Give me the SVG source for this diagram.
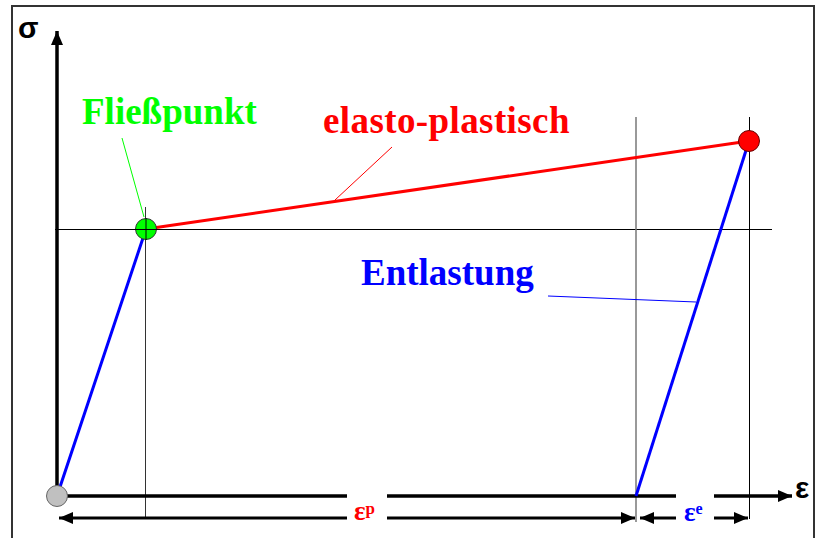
<svg xmlns="http://www.w3.org/2000/svg" width="816" height="538" viewBox="0 0 816 538">
<style>
.lbl{font-family:"Liberation Serif","Times New Roman",serif;font-weight:bold;font-size:37px}
.ax{font-family:"Liberation Sans",Arial,sans-serif;font-weight:bold;font-size:30px;fill:#000}
.thin{stroke:#000;stroke-width:1;fill:none}
.axis{stroke:#000;stroke-width:3.5;fill:none}
.dim{stroke:#000;stroke-width:3;fill:none}
.sym{font-family:"Liberation Serif","Times New Roman",serif;font-weight:bold}
</style>
<defs>
<marker id="ah" viewBox="0 0 14 12" refX="14" refY="6" markerWidth="14" markerHeight="12" markerUnits="userSpaceOnUse" orient="auto-start-reverse">
<path d="M0,0 L14,6 L0,12 Z" fill="#000"/>
</marker>
</defs>
<rect x="12" y="6" width="802" height="545" fill="#fff" stroke="#333" stroke-width="2"/>
<g id="connectors">
<line class="thin" x1="55" y1="229.5" x2="772" y2="229.5"/>
<line x1="145.5" y1="207" x2="145.5" y2="519" stroke="#333" stroke-width="1"/>
<line x1="636" y1="117" x2="636" y2="522" stroke="#777" stroke-width="1.5"/>
<line class="thin" x1="749.5" y1="117" x2="749.5" y2="519"/>
<line class="axis" x1="57" y1="496" x2="57" y2="31" marker-end="url(#ah)"/>
<line class="axis" x1="57" y1="496" x2="792" y2="496" marker-end="url(#ah)"/>
<line class="dim" x1="59" y1="518" x2="635" y2="518" marker-start="url(#ah)" marker-end="url(#ah)"/>
<line class="dim" x1="640" y1="518" x2="748" y2="518" marker-start="url(#ah)" marker-end="url(#ah)"/>
<line x1="57" y1="496" x2="146" y2="229" stroke="#00f" stroke-width="3"/>
<line x1="636" y1="496" x2="749" y2="141" stroke="#00f" stroke-width="3"/>
<line x1="146" y1="229" x2="749" y2="141" stroke="#f00" stroke-width="3"/>
<line x1="122" y1="138" x2="144" y2="217" stroke="#0f0" stroke-width="1"/>
<line x1="335" y1="200" x2="392" y2="147" stroke="#f00" stroke-width="1"/>
<line x1="548" y1="296" x2="696" y2="302" stroke="#00f" stroke-width="1"/>
</g>
<g id="origin"><circle cx="57" cy="496" r="10.5" fill="#c0c0c0" stroke="#666" stroke-width="1"/></g>
<g id="fliesspunkt-node"><circle cx="146" cy="229" r="10.5" fill="#0f0" stroke="#333" stroke-width="1"/>
<line class="thin" x1="146" y1="218" x2="146" y2="240"/><line class="thin" x1="135" y1="229.5" x2="157" y2="229.5"/></g>
<g id="endpunkt"><circle cx="749" cy="141" r="10.5" fill="#f00" stroke="#600" stroke-width="1"/></g>
<g id="eps-p"><rect x="347" y="493" width="40" height="30" fill="#fff"/>
<text class="sym" x="354" y="520" font-size="27" fill="#f00">ε<tspan font-size="17" dy="-6">p</tspan></text></g>
<g id="eps-e"><rect x="676" y="493" width="38" height="30" fill="#fff"/>
<text class="sym" x="684" y="521" font-size="27" fill="#00f">ε<tspan font-size="16" dy="-7">e</tspan></text></g>
<g id="sigma-label"><text class="ax" x="18" y="38">σ</text></g>
<g id="eps-label"><text class="ax" x="795" y="498">ε</text></g>
<g id="fliesspunkt"><text class="lbl" x="82" y="124" fill="#0f0">Fließpunkt</text></g>
<g id="elasto"><text class="lbl" x="323" y="133" fill="#f00" letter-spacing="0.4">elasto-plastisch</text></g>
<g id="entlastung"><text class="lbl" x="361" y="285" fill="#00f">Entlastung</text></g>
</svg>
